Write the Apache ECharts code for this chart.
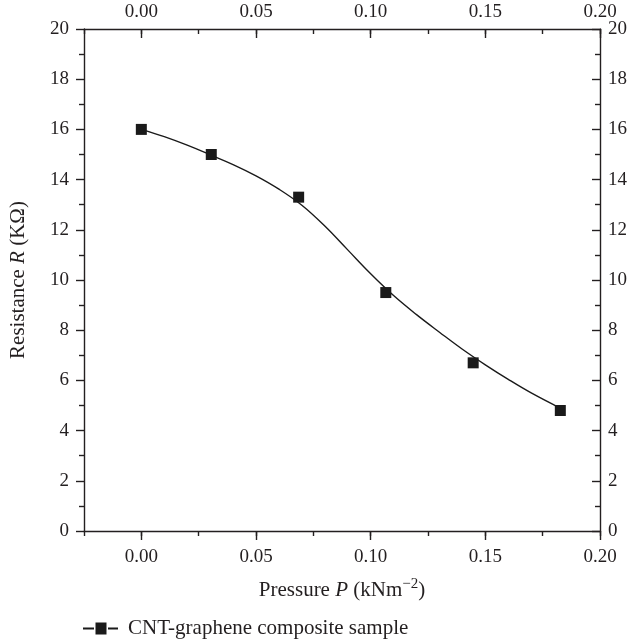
<!DOCTYPE html>
<html>
<head>
<meta charset="utf-8">
<script src="https://cdn.jsdelivr.net/npm/echarts@6/dist/echarts.min.js"></script>
<style>
html,body{margin:0;padding:0;background:#fff;}
#chart{width:630px;height:641px;}
</style>
</head>
<body>
<div id="chart"></div>
<script>
// Measured data points
const pressure = [0, 0.0305, 0.0686, 0.1066, 0.1447, 0.1827];
const resistance = [16.0, 15.0, 13.3, 9.5, 6.7, 4.8];
// Fitted curve
const fitPressure = [0, 0.01, 0.02, 0.03, 0.04, 0.05, 0.06, 0.07, 0.08, 0.09, 0.10, 0.11, 0.12, 0.13, 0.14, 0.15, 0.16, 0.17, 0.183];
const fitResistance = [16.0, 15.71, 15.37, 14.99, 14.6, 14.15, 13.62, 12.98, 12.15, 11.2, 10.25, 9.38, 8.62, 7.92, 7.24, 6.62, 6.04, 5.5, 4.88];
// Tick values
const xMajorTicks = [0, 0.05, 0.10, 0.15, 0.20];
const xMin = -0.025, xMax = 0.2, xMinorStep = 0.025;
const yMin = 0, yMax = 20, yStep = 2;
const seriesName = 'CNT-graphene composite sample';

const FONT = "'Liberation Serif', 'DejaVu Serif', serif";
const TXT = '#231f20';
const AX = '#231f20';

const chart = echarts.init(document.getElementById('chart'), null, {renderer: 'canvas'});

const labelStyle = {fontFamily: FONT, fontSize: 19, color: TXT};
const fmtX = v => {
  const r = Math.round(v * 1000) / 1000;
  return xMajorTicks.some(t => Math.abs(t - r) < 1e-9) ? r.toFixed(2) : '';
};

function majorX(position, inside, showName) {
  const ax = {
    type: 'value', position: position, min: xMin, max: xMax, interval: xMinorStep,
    axisLine: {show: true, onZero: false, lineStyle: {color: AX, width: 1.4}},
    axisTick: {show: true, inside: inside, length: 9, lineStyle: {color: AX, width: 1.4}, customValues: xMajorTicks},
    axisLabel: Object.assign({show: true, margin: position === 'bottom' ? 17 : 7, formatter: fmtX, customValues: xMajorTicks, showMinLabel: true, showMaxLabel: true}, labelStyle),
    splitLine: {show: false}
  };
  if (showName) {
    ax.name = '{a|Pressure }{i|P}{a| (kNm}{s|\u22122}{a|)}';
    ax.nameLocation = 'middle';
    ax.nameGap = 46;
    ax.nameTextStyle = {
      rich: {
        a: {fontFamily: FONT, fontSize: 21, color: TXT, lineHeight: 27},
        i: {fontFamily: FONT, fontSize: 21, color: TXT, fontStyle: 'italic', lineHeight: 27},
        s: {fontFamily: FONT, fontSize: 15, color: TXT, lineHeight: 15, verticalAlign: 'top'}
      }
    };
  }
  return ax;
}
function minorX(position, inside) {
  return {
    type: 'value', position: position, min: xMin, max: xMax, interval: xMinorStep,
    axisLine: {show: false, onZero: false},
    axisTick: {show: true, inside: inside, length: 5, lineStyle: {color: AX, width: 1.4}},
    axisLabel: {show: false},
    splitLine: {show: false}
  };
}
function yAx(position, inside, showName) {
  const ax = {
    type: 'value', position: position, min: yMin, max: yMax, interval: yStep,
    axisLine: {show: true, onZero: false, lineStyle: {color: AX, width: 1.4}},
    axisTick: {show: true, inside: inside, length: 8, lineStyle: {color: AX, width: 1.4}},
    minorTick: {show: true, splitNumber: 2, length: 5, lineStyle: {color: AX, width: 1.4}},
    axisLabel: Object.assign({show: true, margin: position === 'left' ? 15 : 8}, labelStyle),
    splitLine: {show: false},
    minorSplitLine: {show: false}
  };
  if (showName) {
    ax.name = '{a|Resistance }{i|R}{a| (K\u03A9)}';
    ax.nameLocation = 'middle';
    ax.nameGap = 52;
    ax.nameRotate = 90;
    ax.nameTextStyle = {
      rich: {
        a: {fontFamily: FONT, fontSize: 21, color: TXT, lineHeight: 27},
        i: {fontFamily: FONT, fontSize: 21, color: TXT, fontStyle: 'italic', lineHeight: 27}
      }
    };
  }
  return ax;
}

const option = {
  backgroundColor: '#ffffff',
  animation: false,
  grid: {left: 78, right: 30, top: 29, bottom: 110, containLabel: false},
  xAxis: [
    majorX('bottom', false, true),
    minorX('bottom', false),
    majorX('top', true, false),
    minorX('top', true)
  ],
  yAxis: [
    yAx('left', false, true),
    yAx('right', true, false)
  ],
  legend: {
    show: true,
    left: 78,
    top: 613,
    itemWidth: 35,
    itemHeight: 12,
    itemGap: 10,
    icon: 'path://M0,5.1H11V6.9H0Z M12.5,0H23.5V12H12.5Z M25,5.1H35V6.9H25Z',
    textStyle: {fontFamily: FONT, fontSize: 21, color: TXT, padding: [0, 0, 0, 5]},
    data: [{name: seriesName, itemStyle: {color: '#1a1a1a', opacity: 1}}]
  },
  series: [
    {
      name: 'fit',
      type: 'line',
      xAxisIndex: 0, yAxisIndex: 0,
      data: fitPressure.map((p, i) => [p, fitResistance[i]]),
      smooth: 0.4,
      showSymbol: false,
      symbol: 'none',
      lineStyle: {color: '#1a1a1a', width: 1.4},
      z: 2,
      silent: true
    },
    {
      name: seriesName,
      type: 'scatter',
      xAxisIndex: 0, yAxisIndex: 0,
      data: pressure.map((p, i) => [p, resistance[i]]),
      symbol: 'rect',
      symbolSize: 11,
      itemStyle: {color: '#1a1a1a', opacity: 1},
      z: 3
    }
  ]
};
chart.setOption(option);
</script>
</body>
</html>
